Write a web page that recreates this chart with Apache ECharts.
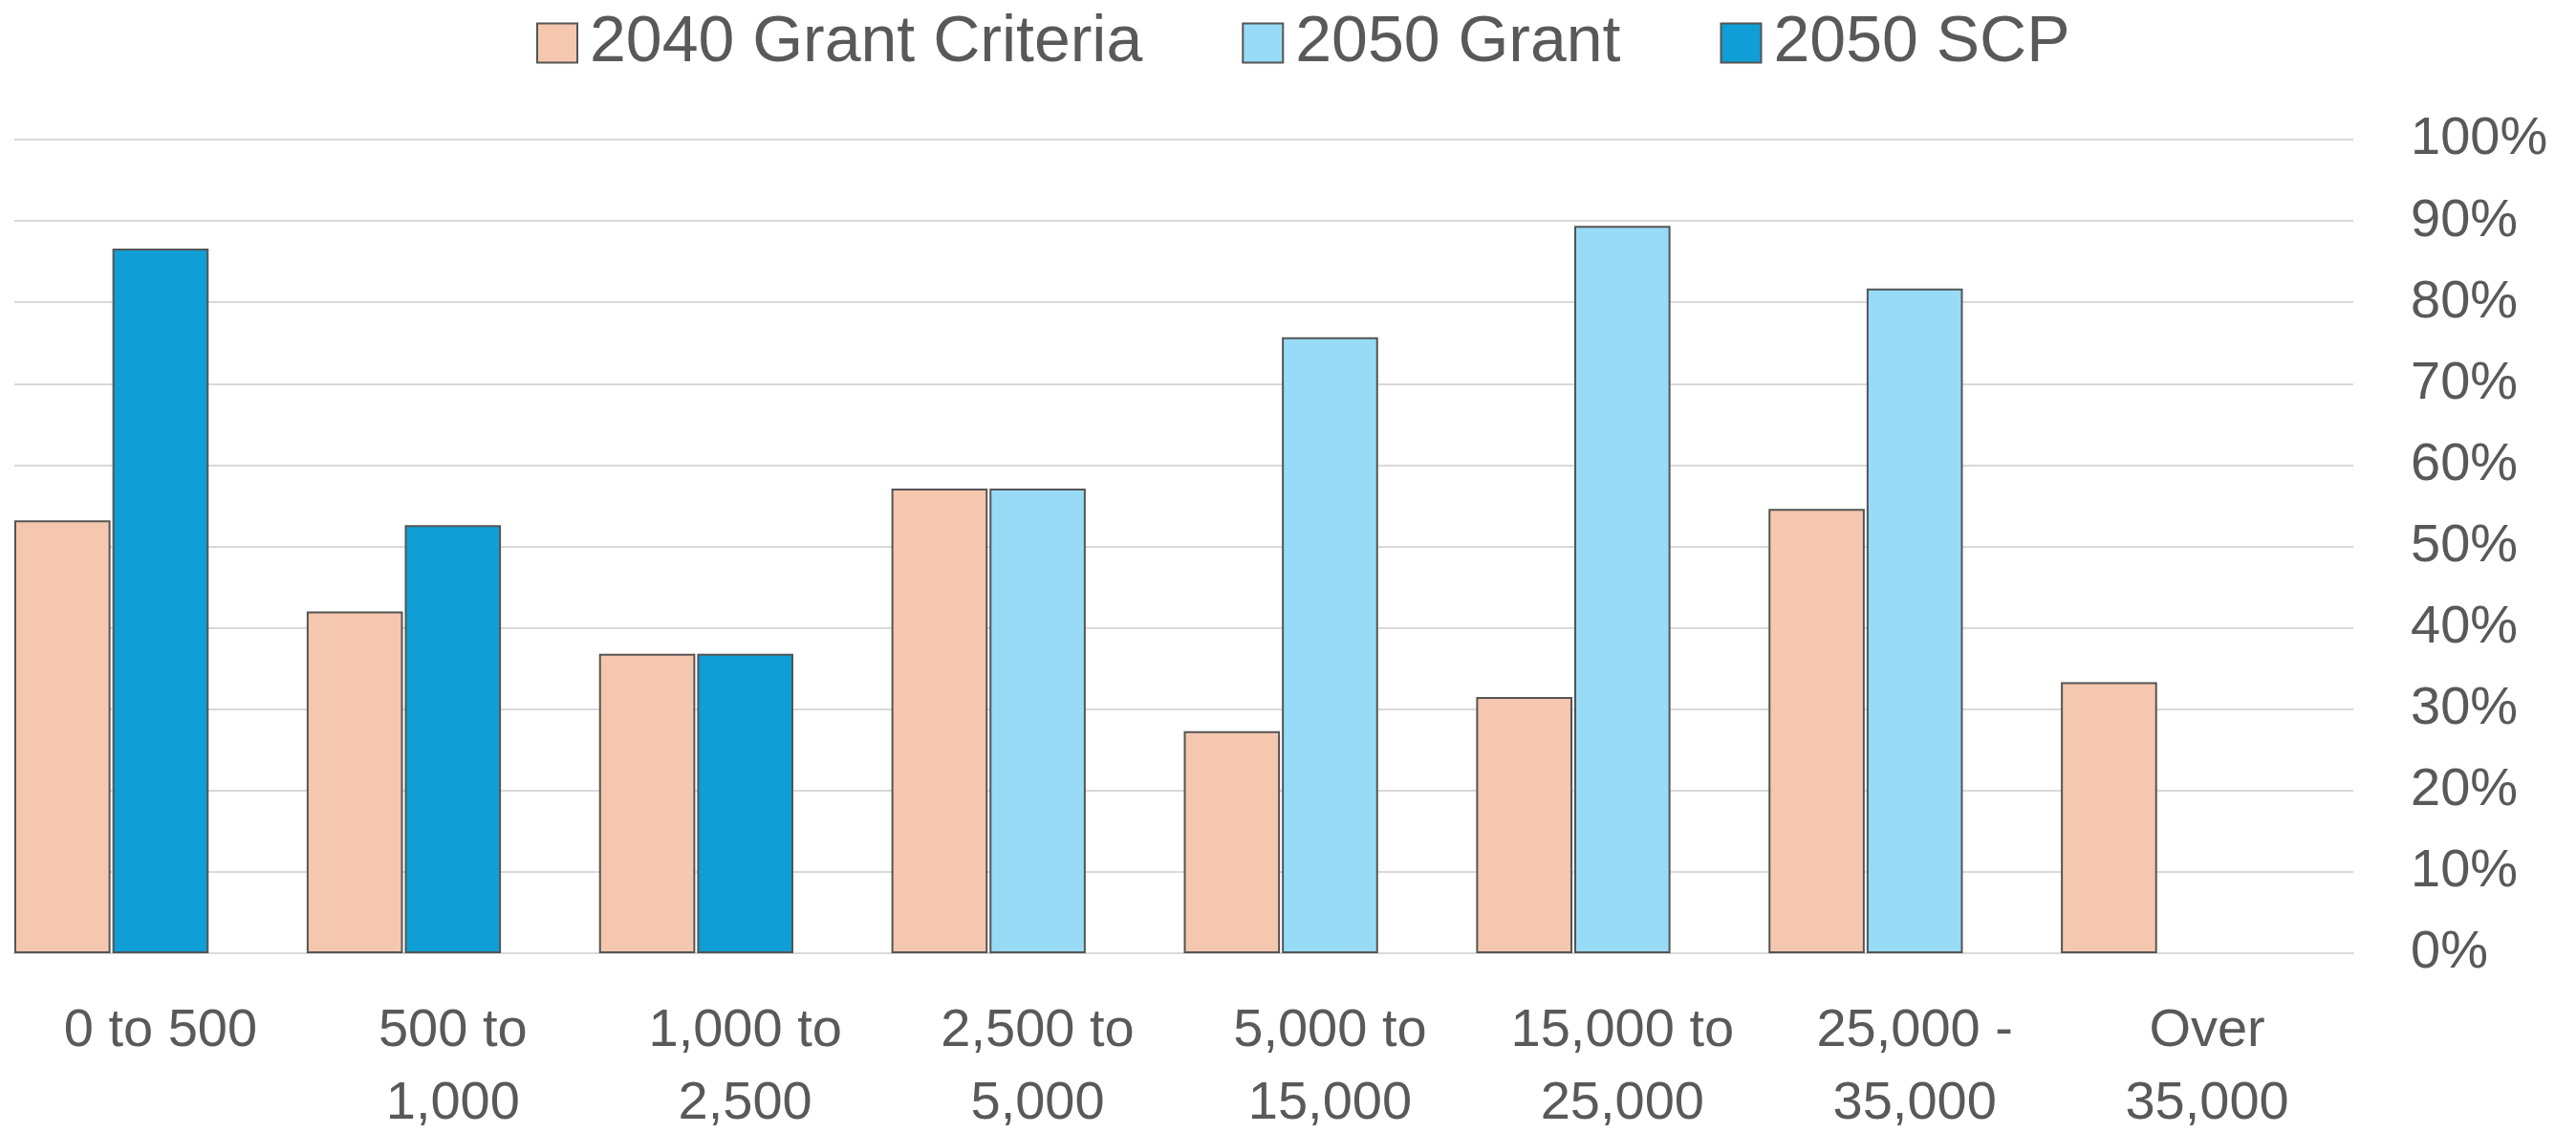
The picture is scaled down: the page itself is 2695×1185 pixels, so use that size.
<!DOCTYPE html>
<html>
<head>
<meta charset="utf-8">
<title>Grant criteria by population band</title>
<script src="https://cdn.jsdelivr.net/npm/echarts@6.0.0/dist/echarts.min.js"></script>
<style>
  html, body {
    margin: 0;
    padding: 0;
    background: #fff;
  }

  #chart {
    width: 2695px;
    height: 1185px;
  }
</style>
</head>
<body>
<div id="chart"></div>
<script>
const categories = [
  '0 to 500',
  '500 to\n1,000',
  '1,000 to\n2,500',
  '2,500 to\n5,000',
  '5,000 to\n15,000',
  '15,000 to\n25,000',
  '25,000 -\n35,000',
  'Over\n35,000',
]

// percent of places meeting each criteria
const grant2040 = [53.2, 42.0, 36.8, 57.1, 27.3, 31.5, 54.6, 33.3]
const grant2050 = [null, null, null, 57.1, 75.7, 89.4, 81.7, null]
const scp2050 = [86.6, 52.6, 36.8, null, null, null, null, null]

const yTicks = { min: 0, max: 100, interval: 10 }

const textColor = '#595959'
const gridColor = '#d9d9d9'
const fontFamily = '"Liberation Sans", Arial, sans-serif'

const barBorder = {
  borderColor: '#555555',
  borderWidth: 2,
}

const chart = echarts.init(document.getElementById('chart'))

chart.setOption({
  animation: false,
  textStyle: { fontFamily: fontFamily },
  legend: {
    data: ['2040 Grant Criteria', '2050 Grant', '2050 SCP'],
    left: 556,
    top: 6,
    itemWidth: 42,
    itemHeight: 41,
    itemGap: 104,
    icon: 'rect',
    itemStyle: { borderColor: '#555555', borderWidth: 2 },
    textStyle: {
      color: textColor,
      fontSize: 68,
      padding: [0, 0, 0, 8],
    },
  },
  grid: {
    left: 15,
    right: 233,
    top: 146,
    bottom: 188,
    containLabel: false,
    outerBoundsMode: 'none',
  },
  xAxis: {
    type: 'category',
    data: categories,
    axisLine: { lineStyle: { color: gridColor, width: 2 } },
    axisTick: { show: false },
    axisLabel: {
      color: textColor,
      fontSize: 56,
      lineHeight: 76,
      margin: 44,
      interval: 0,
    },
  },
  yAxis: {
    type: 'value',
    position: 'right',
    min: yTicks.min,
    max: yTicks.max,
    interval: yTicks.interval,
    axisLine: { show: false },
    axisTick: { show: false },
    splitLine: { lineStyle: { color: gridColor, width: 2 } },
    axisLabel: {
      color: textColor,
      fontSize: 56,
      margin: 60,
      align: 'left',
      formatter: '{value}%',
    },
  },
  series: [
    {
      name: '2040 Grant Criteria',
      type: 'bar',
      data: grant2040,
      barGap: '2%',
      barCategoryGap: '0%',
      itemStyle: Object.assign({ color: '#f5c7ae' }, barBorder),
    },
    {
      name: '2050 Grant',
      type: 'bar',
      stack: 'later',
      data: grant2050,
      itemStyle: Object.assign({ color: '#97dbf7' }, barBorder),
    },
    {
      name: '2050 SCP',
      type: 'bar',
      stack: 'later',
      data: scp2050,
      itemStyle: Object.assign({ color: '#0f9ed5' }, barBorder),
    },
    {
      // empty third slot in each category, as in the original layout
      name: 'spacer',
      type: 'bar',
      data: categories.map(() => null),
      silent: true,
    },
  ],
})
</script>
</body>
</html>
